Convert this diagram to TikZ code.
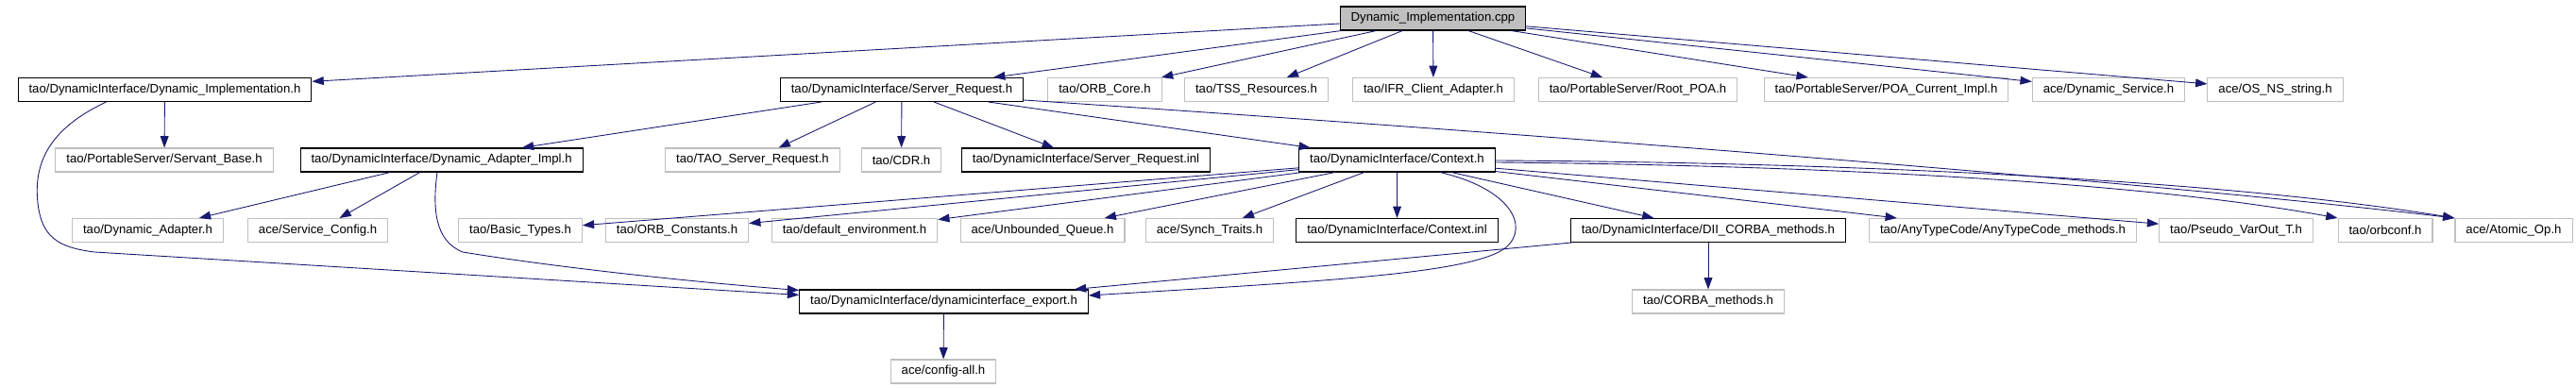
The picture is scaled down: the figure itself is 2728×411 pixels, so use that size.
\documentclass[tikz,border=0pt]{standalone}
\usepackage{fontspec}
\setmainfont{Liberation Sans}
\usetikzlibrary{arrows.meta,calc}
\definecolor{edgeblue}{HTML}{191970}
\definecolor{boxgray}{HTML}{BFBFBF}

\begin{document}
\begin{tikzpicture}[
    x=0.02cm,
    y=-0.02cm,
    docfile/.style={
        draw=black,
        fill=white,
        line width=0.6pt,
        minimum height=0.5cm,
        inner xsep=0.23cm,
        inner ysep=0pt,
        font=\fontsize{7.5}{9}\selectfont
    },
    extfile/.style={
        docfile,
        draw=boxgray
    },
    srcfile/.style={
        docfile,
        fill=boxgray
    },
    arrow/.style={
        -{Triangle[length=7pt,width=5pt]},
        draw=edgeblue,
        line width=0.5pt
    }
]
\useasboundingbox (0,0) rectangle (2728,411);

% The source file
\node [srcfile] (cpp) at (1517.5,19.5) {Dynamic\_Implementation.cpp};

% Its direct includes
\node [docfile] (dimplh) at (174.5,95) {tao/DynamicInterface/Dynamic\_Implementation.h};
\node [docfile] (sreqh) at (955,95) {tao/DynamicInterface/Server\_Request.h};
\node [extfile] (orbcore) at (1170,95) {tao/ORB\_Core.h};
\node [extfile] (tss) at (1330.5,95) {tao/TSS\_Resources.h};
\node [extfile] (ifr) at (1518,95) {tao/IFR\_Client\_Adapter.h};
\node [extfile] (rootpoa) at (1734.5,95) {tao/PortableServer/Root\_POA.h};
\node [extfile] (poacur) at (1997.5,95) {tao/PortableServer/POA\_Current\_Impl.h};
\node [extfile] (dynsvc) at (2233,95) {ace/Dynamic\_Service.h};
\node [extfile] (osns) at (2409.5,95) {ace/OS\_NS\_string.h};

% Second level
\node [extfile] (servant) at (174,169.5) {tao/PortableServer/Servant\_Base.h};
\node [docfile] (dadimpl) at (467.6,169.5) {tao/DynamicInterface/Dynamic\_Adapter\_Impl.h};
\node [extfile] (taosreq) at (797,169.5) {tao/TAO\_Server\_Request.h};
\node [extfile] (cdr) at (954.5,169.5) {tao/CDR.h};
\node [docfile] (sreqinl) at (1150,169.5) {tao/DynamicInterface/Server\_Request.inl};
\node [docfile] (ctxh) at (1479.5,169.5) {tao/DynamicInterface/Context.h};

% Third level
\node [extfile] (dynadapter) at (156.5,244) {tao/Dynamic\_Adapter.h};
\node [extfile] (svcconf) at (336.6,244) {ace/Service\_Config.h};
\node [extfile] (basictypes) at (551,244) {tao/Basic\_Types.h};
\node [extfile] (orbconst) at (717,244) {tao/ORB\_Constants.h};
\node [extfile] (defenv) at (905,244) {tao/default\_environment.h};
\node [extfile] (unbq) at (1104,244) {ace/Unbounded\_Queue.h};
\node [extfile] (synchtr) at (1281,244) {ace/Synch\_Traits.h};
\node [docfile] (ctxinl) at (1479.5,244) {tao/DynamicInterface/Context.inl};
\node [docfile] (dii) at (1809,244) {tao/DynamicInterface/DII\_CORBA\_methods.h};
\node [extfile] (anytc) at (2121,244) {tao/AnyTypeCode/AnyTypeCode\_methods.h};
\node [extfile] (pseudo) at (2368,244) {tao/Pseudo\_VarOut\_T.h};
\node [extfile] (orbconf) at (2526,244) {tao/orbconf.h};
\node [extfile] (atomic) at (2662,244) {ace/Atomic\_Op.h};

% Bottom levels
\node [docfile] (export) at (999.5,319.5) {tao/DynamicInterface/dynamicinterface\_export.h};
\node [extfile] (corbameth) at (1809,319.5) {tao/CORBA\_methods.h};
\node [extfile] (configall) at (999,393.5) {ace/config-all.h};

% Includes of the source file
\draw [arrow] (cpp) -- (dimplh);
\draw [arrow] (cpp) -- (sreqh);
\draw [arrow] (cpp) -- (orbcore);
\draw [arrow] (cpp) -- (tss);
\draw [arrow] (cpp) -- (ifr);
\draw [arrow] (cpp) -- (rootpoa);
\draw [arrow] (cpp) -- (poacur);
\draw [arrow] (cpp) -- (dynsvc);
\draw [arrow] (cpp) -- (osns);

% Dynamic_Implementation.h
\draw [arrow] (dimplh) -- (servant);
\draw [arrow] ($(dimplh.south)+(-62,0)$) .. controls (55,135) and (35,170) .. (40,215)
    .. controls (44,250) and (60,262) .. (100,267) -- ($(export.north west)+(0,6)$);

% Server_Request.h
\draw [arrow] (sreqh) -- (dadimpl);
\draw [arrow] (sreqh) -- (taosreq);
\draw [arrow] (sreqh) -- (cdr);
\draw [arrow] (sreqh) -- (sreqinl);
\draw [arrow] (sreqh) -- (ctxh);
\draw [arrow] ($(sreqh.east)+(0,11)$) .. controls (1600,140) and (2250,190) .. (atomic.north west);

% Dynamic_Adapter_Impl.h
\draw [arrow] (dadimpl) -- (dynadapter);
\draw [arrow] (dadimpl) -- (svcconf);
\draw [arrow] ($(dadimpl.south)+(-4.6,0)$) .. controls (458,220) and (460,255) .. (490,267)
    .. controls (600,285) and (750,300) .. ($(export.north west)+(0,1)$);

% Context.h
\draw [arrow] (ctxh) -- (basictypes);
\draw [arrow] (ctxh) -- (orbconst);
\draw [arrow] (ctxh) -- (defenv);
\draw [arrow] (ctxh) -- (unbq);
\draw [arrow] (ctxh) -- (synchtr);
\draw [arrow] (ctxh) -- (ctxinl);
\draw [arrow] ($(ctxh.south)+(45.5,0)$) .. controls (1600,200) and (1620,240) .. (1595,262)
    .. controls (1560,290) and (1400,298) .. ($(export.east)+(0,-6.5)$);
\draw [arrow] (ctxh) -- (dii);
\draw [arrow] (ctxh) -- (anytc);
\draw [arrow] (ctxh) -- (pseudo);
\draw [arrow] ($(ctxh.east)+(0,2.5)$) .. controls (1900,175) and (2250,190) .. (orbconf.north west);
\draw [arrow] ($(ctxh.east)+(0,0.5)$) .. controls (1950,172) and (2350,190) .. (atomic.north west);

% DII_CORBA_methods.h
\draw [arrow] ($(dii.south west)+(1,0)$) -- ($(export.north east)+(-15,0)$);
\draw [arrow] (dii) -- (corbameth);

% dynamicinterface_export.h
\draw [arrow] (export) -- (configall);

\end{tikzpicture}
\end{document}
